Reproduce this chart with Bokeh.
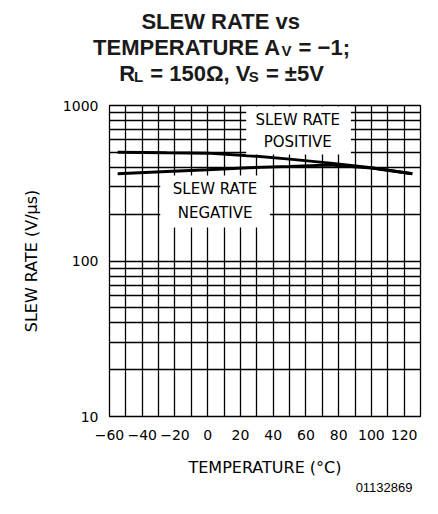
from bokeh.plotting import figure
from bokeh.layouts import column
from bokeh.models import Range1d, FixedTicker, Label, BoxAnnotation, Title
from bokeh.core.properties import value
from bokeh.embed import file_html
from bokeh.resources import INLINE

# ---- data ----
temperature = [-55, -25, 0, 25, 50, 75, 100, 125]
slew_positive = [501, 497, 494, 476, 452, 426, 398, 364]
slew_negative = [364, 376, 386, 398, 406, 415, 396, 364]

x_tick_values = [-60, -40, -20, 0, 20, 40, 60, 80, 100, 120]
x_tick_labels = ["\u221260", "\u221240", "\u221220", "0", "20", "40", "60", "80", "100", "120"]
y_tick_values = [10, 100, 1000]
y_tick_labels = ["10", "100", "1000"]
x_grid_values = [-60, -50, -40, -30, -20, -10, 0, 10, 20, 30, 40, 50, 60, 70, 80, 90, 100, 110, 120, 130]
y_grid_values = [10, 20, 30, 40, 50, 60, 70, 80, 90, 100, 200, 300, 400, 500, 600, 700, 800, 900, 1000]

FONT = "DejaVu Sans"
PAGE_W = 430
TITLE_H = 96

# ---- title strip (own small svg figure, pixel coordinates) ----
tf = figure(width=PAGE_W, height=TITLE_H, x_range=Range1d(0, PAGE_W), y_range=Range1d(TITLE_H, 0),
            x_axis_location=None, y_axis_location=None, output_backend="svg", toolbar_location=None,
            min_border=0, min_border_left=0, min_border_right=0, min_border_top=0, min_border_bottom=0)
tf.frame_align = False
tf.grid.visible = False
tf.outline_line_color = None
tf.background_fill_color = "white"
tf.border_fill_color = "white"

AB = {' ': 278, 'S': 667, 'L': 611, 'E': 667, 'W': 944, 'R': 722, 'A': 722, 'T': 611,
      'v': 556, 's': 556, 'M': 833, 'P': 667, 'U': 722, 'V': 667, '=': 584, '\u2212': 584,
      '1': 556, ';': 333, '5': 556, '0': 556, '\u03a9': 768, ',': 278, '\u00b1': 549}
TSIZE, SSIZE, SUBDROP = 22, 15, 3


def tw(s, size):
    return sum(AB.get(c, 600) for c in s) * size / 1000.0


title_lines = [
    (21, [("SLEW RATE vs", False)]),
    (47, [("TEMPERATURE A", False), ("V", True), (" = \u22121;", False)]),
    (73, [("R", False), ("L", True), (" = 150\u03a9, V", False), ("S", True), (" = \u00b15V", False)]),
]
center_x = 221
for base_y, parts in title_lines:
    total = sum(tw(t, SSIZE if sub else TSIZE) for t, sub in parts)
    x = center_x - total / 2
    for t, sub in parts:
        size = SSIZE if sub else TSIZE
        yy = base_y + (SUBDROP if sub else 0)
        stripped = t.lstrip(" ")
        lead = tw(t[:len(t) - len(stripped)], size)
        tf.text(x=[x + lead - (1 if sub else 0)], y=[yy], text=[stripped], text_align="left",
                text_baseline="alphabetic",
                text_font=value("Liberation Sans"), text_font_style="bold",
                text_font_size=f"{size}px", text_color="#1a1a1a")
        x += tw(t, size)

# ---- main chart ----
FL, FR, FT, FB = 109, 10, 9, 84
FRAME_H = 311
p = figure(width=PAGE_W, height=FT + FRAME_H + FB, x_range=Range1d(-60, 130), y_range=Range1d(10, 1000),
           y_axis_type="log", output_backend="svg", toolbar_location=None,
           min_border_left=FL, min_border_right=FR, min_border_top=FT, min_border_bottom=FB)
p.frame_align = False
p.background_fill_color = "white"
p.border_fill_color = "white"
p.outline_line_color = "black"
p.outline_line_width = 1.3

p.xgrid.ticker = FixedTicker(ticks=x_grid_values)
p.ygrid.ticker = FixedTicker(ticks=y_grid_values)
for g in (p.xgrid, p.ygrid):
    g.grid_line_color = "black"
    g.grid_line_width = 1.3
    g.grid_line_alpha = 1.0

p.xaxis.ticker = FixedTicker(ticks=x_tick_values)
p.xaxis.major_label_overrides = {v: t for v, t in zip(x_tick_values, x_tick_labels)}
p.yaxis.ticker = FixedTicker(ticks=y_tick_values)
p.yaxis.major_label_overrides = {v: t for v, t in zip(y_tick_values, y_tick_labels)}
for ax in (p.xaxis, p.yaxis):
    ax.axis_line_color = None
    ax.major_tick_line_color = None
    ax.minor_tick_line_color = None
    ax.major_tick_out = 0
    ax.major_tick_in = 0
    ax.minor_tick_out = 0
    ax.major_label_text_font = FONT
    ax.major_label_text_font_size = "14px"
    ax.major_label_text_color = "black"
    ax.axis_label_text_font = FONT
    ax.axis_label_text_font_size = "16px"
    ax.axis_label_text_font_style = "normal"
    ax.axis_label_text_color = "black"
p.xaxis.axis_label = "TEMPERATURE (\u00b0C)"
p.yaxis.axis_label = "SLEW RATE (V/\u03bcs)"
p.xaxis.major_label_standoff = 13
p.xaxis.axis_label_standoff = 15
p.yaxis.major_label_standoff = 11
p.yaxis.axis_label_standoff = 19

# white label boxes hiding the grid
p.add_layout(BoxAnnotation(left=23.5, right=87.5, bottom=484, top=985,
                           fill_color="white", fill_alpha=1.0, line_color=None))
p.add_layout(BoxAnnotation(left=-29, right=38, bottom=164, top=355,
                           fill_color="white", fill_alpha=1.0, line_color=None))

p.line(temperature, slew_positive, line_color="black", line_width=3)
p.line(temperature, slew_negative, line_color="black", line_width=3)

for tx, ty, txt in [(55, 812, "SLEW RATE"), (55, 580, "POSITIVE"),
                    (4.5, 289, "SLEW RATE"), (4.5, 204, "NEGATIVE")]:
    p.add_layout(Label(x=tx, y=ty, text=txt, text_align="center", text_baseline="alphabetic",
                       text_font=FONT, text_font_size="15px", text_color="black"))

# figure number below the axis label
p.add_layout(Title(text="01132869", align="right", text_font="Liberation Sans",
                   text_font_size="13px", text_font_style="normal", text_color="black",
                   standoff=3, offset=8), "below")

open("out.html", "w").write(file_html(column(tf, p, spacing=0), INLINE))
